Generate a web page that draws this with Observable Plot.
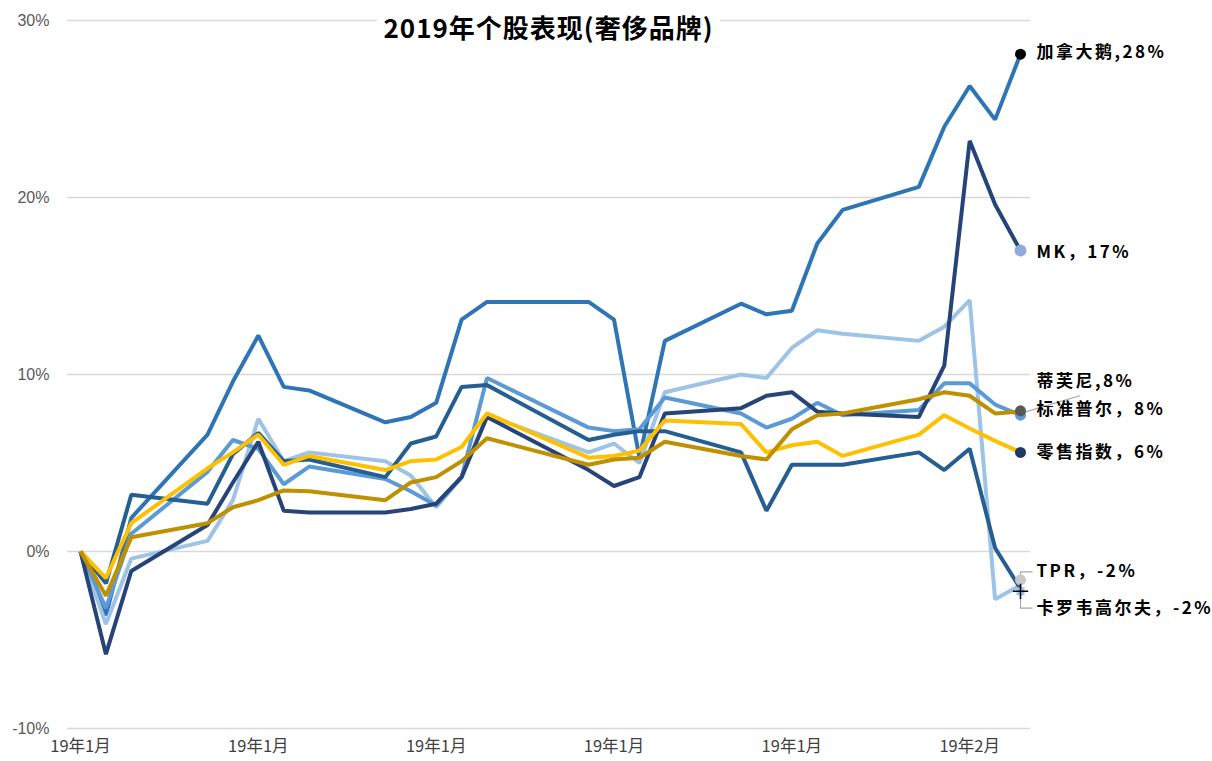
<!DOCTYPE html>
<html><head><meta charset="utf-8">
<script src="https://cdn.jsdelivr.net/npm/d3@7"></script>
<script src="https://cdn.jsdelivr.net/npm/@observablehq/plot@0.6"></script>
<style>
body{margin:0;background:#fff;}
#wrap{position:relative;width:1212px;height:761px;}
#title{position:absolute;left:377px;top:10px;width:343px;text-align:center;background:#fff;font:700 26px "Noto Sans CJK SC",sans-serif;color:#000;line-height:34px;letter-spacing:1px;}
</style></head><body><div id="wrap"><div id="title">2019年个股表现(奢侈品牌)</div></div>
<script>
// ---- data ----
const dates = ["2019-01-02","2019-01-03","2019-01-04","2019-01-07","2019-01-08","2019-01-09","2019-01-10","2019-01-11","2019-01-14","2019-01-15","2019-01-16","2019-01-17","2019-01-18","2019-01-22","2019-01-23","2019-01-24","2019-01-25","2019-01-28","2019-01-29","2019-01-30","2019-01-31","2019-02-01","2019-02-04","2019-02-05","2019-02-06","2019-02-07","2019-02-08"];
const canadaGoose = [0,-3.6,1.9,6.6,9.6,12.2,9.3,9.1,7.3,7.6,8.4,13.1,14.1,14.1,13.1,5.3,11.9,14.0,13.4,13.6,17.4,19.3,20.6,24.0,26.3,24.4,28.1];
const mk          = [0,-5.8,-1.1,1.5,3.9,6.2,2.3,2.2,2.2,2.4,2.7,4.2,7.6,4.6,3.7,4.2,7.8,8.1,8.8,9.0,7.9,7.8,7.6,10.5,23.2,19.6,17.0];
const tpr         = [0,-4.1,-0.4,0.6,2.9,7.5,5.1,5.6,5.1,4.3,2.5,4.2,7.7,5.6,6.1,5.0,9.0,10.0,9.8,11.5,12.5,12.3,11.9,12.7,14.2,-2.7,-1.9];
const tiffany     = [0,-3.2,1.0,4.5,6.3,5.8,3.8,4.8,4.1,3.4,2.6,4.2,9.8,7.0,6.8,6.9,8.7,7.8,7.0,7.5,8.4,7.7,8.0,9.5,9.5,8.3,7.7];
const callaway    = [0,-1.8,3.2,2.7,5.5,6.7,5.1,5.2,4.2,6.1,6.5,9.3,9.4,6.3,6.6,6.8,6.8,5.6,2.3,4.9,4.9,4.9,5.6,4.6,5.8,0.2,-2.1];
const retail      = [0,-1.5,1.6,4.7,5.6,6.6,4.9,5.4,4.6,5.1,5.2,5.9,7.8,5.3,5.4,5.7,7.4,7.2,5.6,6.0,6.2,5.4,6.6,7.7,6.95,6.25,5.6];
const sp500       = [0,-2.5,0.8,1.6,2.5,2.9,3.45,3.4,2.9,3.9,4.2,5.1,6.4,4.9,5.2,5.3,6.2,5.4,5.2,6.9,7.7,7.8,8.6,9.0,8.8,7.8,7.9];

const seriesNames  = ["加拿大鹅","TPR","蒂芙尼","卡罗韦高尔夫","MK","零售指数","标准普尔"];
const seriesValues = [canadaGoose,tpr,tiffany,callaway,mk,retail,sp500];
const seriesColors = ["#2e75b6","#9dc3e6","#5b9bd5","#255e91","#264478","#ffc000","#bf9000"];

const yTicks = [-10,0,10,20,30];
const xTickDates  = ["2019-01-02","2019-01-09","2019-01-16","2019-01-23","2019-01-30","2019-02-06"];
const xTickLabels = ["19年1月","19年1月","19年1月","19年1月","19年1月","19年2月"];

const endLabels      = ["加拿大鹅,28%","MK，17%","蒂芙尼,8%","标准普尔，8%","零售指数，6%","TPR，-2%","卡罗韦高尔夫，-2%"];
const endLabelValues = [28.2,16.9,9.6,8.0,5.6,-1.15,-3.2];
const markerValues   = [28.1,17.0,7.7,7.95,5.6,-1.6,-2.25];
const markerColors   = ["#000000","#8faadc","#5b9bd5","#595959","#203864","#c8c8c8","#9dc3e6"];

// ---- build ----
const parse = d3.utcParse("%Y-%m-%d");
const dateObjs = dates.map(parse);
const endDate = dateObjs[dateObjs.length-1];
const tickObjs = xTickDates.map(parse);
const tickMap = new Map(tickObjs.map((d,i)=>[+d, xTickLabels[i]]));

const lineMarks = seriesValues.map((vals,k)=>
  Plot.line(vals.map((v,i)=>({date:dateObjs[i], value:v})),
    {x:"date", y:"value", stroke:seriesColors[k], strokeWidth:4, strokeLinejoin:"miter", strokeLinecap:"butt"}));

const markerMarks = markerValues.slice(0,6).map((v,i)=>
  Plot.dot([{date:endDate, value:v}],{x:"date", y:"value", fill:markerColors[i], r:i===1?6:5.5}));
const squareMarker = [{date:endDate, value:markerValues[6]}];

const labels = endLabels.map((t,i)=>({date:endDate, value:endLabelValues[i], text:t}));

const h = (hours)=>d3.utcHour.offset(endDate, hours);
const leaderTPR = [
  {date:endDate, value:markerValues[5]},
  {date:endDate, value:endLabelValues[5]},
  {date:h(11), value:endLabelValues[5]}];
const leaderCallaway = [
  {date:endDate, value:markerValues[6]},
  {date:endDate, value:endLabelValues[6]},
  {date:h(11), value:endLabelValues[6]}];
const leaderTiffany = [
  {date:endDate, value:markerValues[2]+0.1},
  {date:h(56), value:(endLabelValues[2]+endLabelValues[3])/2}];

const chart = Plot.plot({
  width:1212, height:761,
  marginTop:20, marginBottom:33, marginLeft:67, marginRight:182,
  style:{fontFamily:"'Liberation Sans', Arial, sans-serif", background:"#fff"},
  x:{type:"utc", domain:[dateObjs[0], endDate], insetLeft:13, insetRight:10, label:null},
  y:{domain:[-10,30], label:null},
  marks:[
    Plot.ruleY(yTicks,{stroke:"#d9d9d9", strokeWidth:1.3}),
    Plot.axisY(yTicks,{tickSize:0, tickPadding:18, tickFormat:d=>d+"%", fontSize:16, fill:"#595959", label:null}),
    Plot.axisX(tickObjs,{tickSize:0, tickPadding:12, tickFormat:d=>tickMap.get(+d), fontSize:16.5, fill:"#404040", fontFamily:"'Liberation Sans Narrow','Noto Sans CJK SC',sans-serif", label:null}),
    ...lineMarks,
    Plot.line(leaderTiffany,{x:"date", y:"value", stroke:"#a6a6a6", strokeWidth:1.2}),
    Plot.line(leaderTPR,{x:"date", y:"value", stroke:"#a6a6a6", strokeWidth:1.2}),
    Plot.line(leaderCallaway,{x:"date", y:"value", stroke:"#a6a6a6", strokeWidth:1.2}),
    ...markerMarks,
    Plot.dot(squareMarker,{x:"date", y:"value", fill:markerColors[6], symbol:"square", r:4.5}),
    Plot.dot(squareMarker,{x:"date", y:"value", stroke:"#000", symbol:"plus", r:5, strokeWidth:1.5}),
    Plot.text(labels,{x:"date", y:"value", text:"text", dx:16, textAnchor:"start", fontSize:17, fontWeight:"bold", fill:"#000", fontFamily:"'Noto Sans CJK SC',sans-serif"})
  ]
});
document.getElementById("wrap").prepend(chart);
chart.querySelectorAll('g[aria-label="text"]').forEach(g=>g.style.letterSpacing="2.5px");
</script></body></html>
